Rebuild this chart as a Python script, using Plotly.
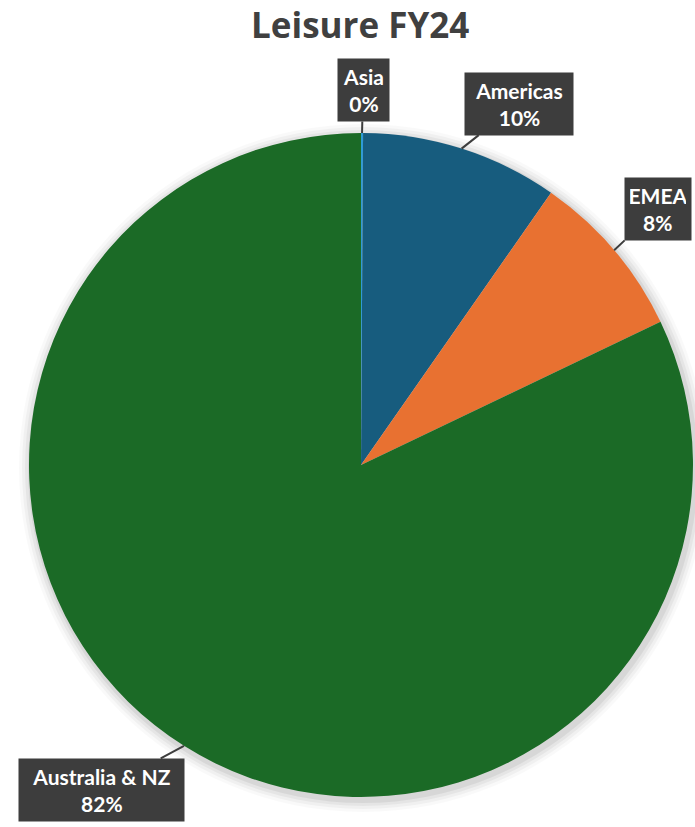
import math
import plotly.graph_objects as go

labels = ["Asia", "Americas", "EMEA", "Australia & NZ"]
values = [0.1, 9.6, 8.2, 82.1]
colors = ["#2E9BD6", "#175C7E", "#E87131", "#1B6A26"]
box_offsets = [(1, -43), (57, -45), (44, -41), (-82, 44)]
box_widths = [41, 98, 56, 155]

W, H = 695, 827
cx, cy, R = 361, 465, 332

fig = go.Figure()
fig.add_trace(go.Pie(
    labels=labels, values=values, sort=False, direction="clockwise", rotation=0,
    marker=dict(colors=colors, line=dict(width=0)),
    textinfo="none", hoverinfo="label+percent", showlegend=False,
    domain=dict(x=[(cx - R) / W, (cx + R) / W], y=[1 - (cy + R) / H, 1 - (cy - R) / H]),
))

# soft shadow behind the pie
shapes = []
for d, op in [(12, 0.025), (9, 0.035), (6, 0.045), (3, 0.06)]:
    shapes.append(dict(type="circle", xref="paper", yref="paper", layer="below",
                       x0=(cx - R - d + 2) / W, x1=(cx + R + d + 2) / W,
                       y0=1 - (cy + R + d + 3) / H, y1=1 - (cy - R - d + 3) / H,
                       fillcolor=f"rgba(0,0,0,{op})", line=dict(width=0)))

total = sum(values)
annotations = []
cum = 0
for lab, v, (ax, ay), bw in zip(labels, values, box_offsets, box_widths):
    mid = (cum + v / 2) / total * 2 * math.pi
    cum += v
    px = cx + R * math.sin(mid)
    py = cy - R * math.cos(mid)
    pct = round(v / total * 100)
    annotations.append(dict(
        x=px / W, y=1 - py / H, xref="paper", yref="paper",
        text=f"<b>{lab}<br>{pct}%</b>", showarrow=True, arrowhead=0, arrowwidth=2,
        arrowcolor="#3d3d3d", ax=ax, ay=ay, bgcolor="#3d3d3d", borderpad=5,
        width=bw,
        font=dict(family="Lato, Open Sans, sans-serif", size=21, color="white"),
        align="center",
    ))

annotations.append(dict(
    x=0.518, y=1, xref="paper", yref="paper", showarrow=False,
    yanchor="top", borderpad=0,
    text="<b>Leisure FY24</b>", font=dict(family="Open Sans, sans-serif", size=35, color="#404040"),
))

fig.update_layout(
    width=W, height=H, margin=dict(l=0, r=0, t=0, b=0),
    paper_bgcolor="white", plot_bgcolor="white",
    shapes=shapes, annotations=annotations,
)
fig.write_html("out.html")
